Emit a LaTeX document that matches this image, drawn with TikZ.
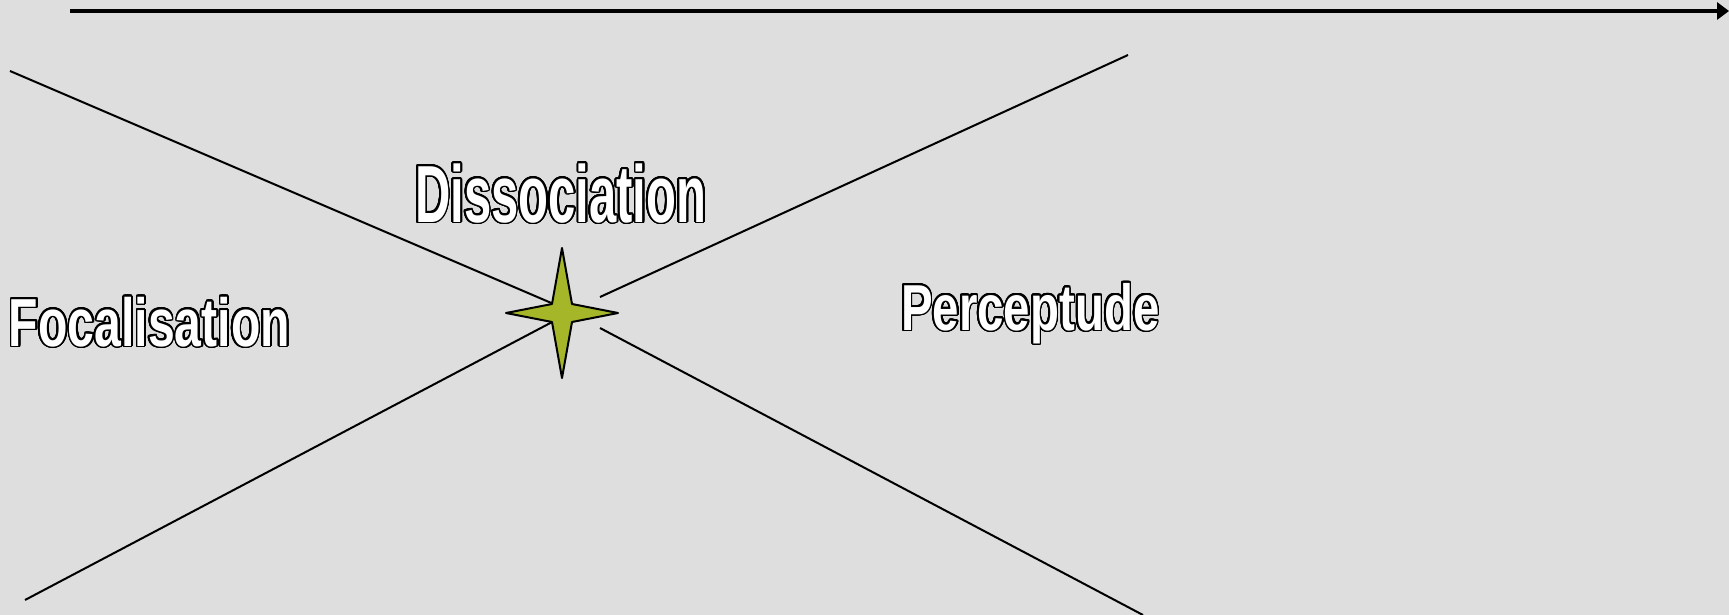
\documentclass[tikz,border=0pt]{standalone}
\usepackage{fontspec}
\setmainfont{Liberation Sans}
\usepackage[copies]{contour}
\contourlength{1.7pt}
\contournumber{32}
\usetikzlibrary{arrows.meta}
\definecolor{bg}{RGB}{222,222,222}
\definecolor{starcol}{RGB}{165,183,40}
\tikzset{
  thinline/.style={line width=2pt, black},
  axisline/.style={line width=4.5pt, black, -{Triangle[length=12pt,width=17pt]}},
  label/.style={inner sep=0pt, outer sep=0pt, text=white, font=\bfseries, anchor=base west},
  starshape/.style={fill=starcol, draw=black, line width=2pt, line join=round},
}
\begin{document}
\begin{tikzpicture}[x=1pt,y=-1pt]
\fill[bg] (0,0) rectangle (1729,615);
\useasboundingbox (0,0) rectangle (1729,615);
% axis
\coordinate (axA) at (70,11);
\coordinate (axB) at (1729,11);
\draw[axisline] (axA) -- (axB);
% line end points
\coordinate (l1a) at (10,71);
\coordinate (l1b) at (556,305);
\coordinate (l2a) at (25,600);
\coordinate (l2b) at (556,320);
\coordinate (r1a) at (600,297);
\coordinate (r1b) at (1128,55);
\coordinate (r2a) at (600,328);
\coordinate (r2b) at (1143,615);
\draw[thinline] (l1a) -- (l1b);
\draw[thinline] (l2a) -- (l2b);
\draw[thinline] (r1a) -- (r1b);
\draw[thinline] (r2a) -- (r2b);
% star
\coordinate (star) at (562,313);
\draw[starshape, shift={(star)}] (0,-65) -- (10,-9) -- (56,0) -- (10,9) -- (0,65) -- (-10,9) -- (-56,0) -- (-10,-9) -- cycle;
% labels
\node[label] (diss) at (415,222) {\fontsize{81}{81}\selectfont\contour{black}{\scalebox{0.605}[1]{Dissociation}}};
\node[label] (foc) at (9,346) {\fontsize{68}{68}\selectfont\contour{black}{\scalebox{0.708}[1]{Focalisation}}};
\node[label] (perc) at (901,330) {\fontsize{65}{65}\selectfont\contour{black}{\scalebox{0.73}[1]{Perceptude}}};
\end{tikzpicture}
\end{document}
